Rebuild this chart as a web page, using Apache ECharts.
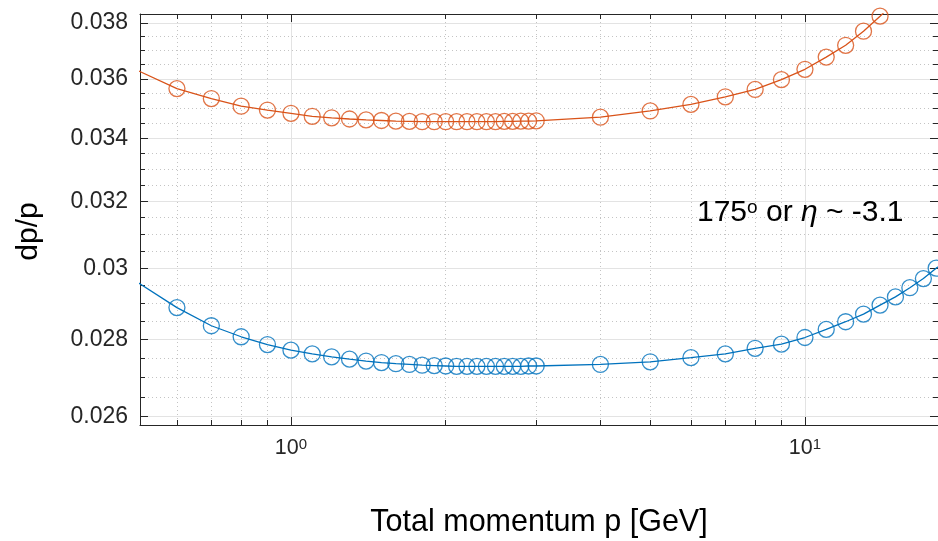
<!DOCTYPE html>
<html><head><meta charset="utf-8">
<script src="https://cdn.jsdelivr.net/npm/echarts@6/dist/echarts.min.js"></script>
<style>html,body{margin:0;padding:0;background:#fff}#c{width:938px;height:541px}</style>
</head><body><div id="c"></div><script>
// ---- data ----
const momentum = [0.6,0.7,0.8,0.9,1.0,1.1,1.2,1.3,1.4,1.5,1.6,1.7,1.8,1.9,2.0,2.1,2.2,2.3,2.4,2.5,2.6,2.7,2.8,2.9,3.0,4,5,6,7,8,9,10,11,12,13,14,15,16,17,18];
const dpOrange = [0.03567,0.03533,0.03507,0.03494,0.03483,0.03473,0.03468,0.03464,0.03461,0.03459,0.03457,0.03456,0.03455,0.03455,0.03455,0.03455,0.03455,0.03455,0.03455,0.03455,0.03456,0.03456,0.03457,0.03457,0.03458,0.03470,0.03491,0.03513,0.03539,0.03564,0.03598,0.03634,0.03677,0.03719,0.03770,0.03825,0.0388,0.0394,0.0400,0.0407];
const dpBlue = [0.02888,0.02838,0.02808,0.02787,0.02772,0.02762,0.02754,0.02748,0.02743,0.02739,0.02736,0.02734,0.02732,0.02731,0.02730,0.02729,0.02729,0.02729,0.02729,0.02729,0.02729,0.02729,0.02729,0.02730,0.02730,0.02734,0.02741,0.02752,0.02762,0.02777,0.02788,0.02806,0.02828,0.02849,0.02870,0.02895,0.02918,0.02944,0.02970,0.03000];
// fitted curve extends to the left edge of the axes
const curveStartP = 0.5;
const orangeCurveStart = 0.03632;
const blueCurveStart = 0.02962;
const curveEndP = 18.5;
const orangeCurveEnd = 0.0409;
const blueCurveEnd = 0.03010;

const xRange = [0.5085, 18.15];
const yRange = [0.02579, 0.03833];
const xMajorTicks = [1, 10];
const xMajorLabels = ['10{s|0}', '10{s|1}'];
const xMinorTicks = [0.6,0.7,0.8,0.9,2,3,4,5,6,7,8,9];
const yMajorTicks = [0.026,0.028,0.030,0.032,0.034,0.036,0.038];
const yMinorTicks = [0.0265,0.0270,0.0275,0.0285,0.0290,0.0295,0.0305,0.0310,0.0315,0.0325,0.0330,0.0335,0.0345,0.0350,0.0355,0.0365,0.0370,0.0375];
const xTitle = 'Total momentum p [GeV]';
const yTitle = 'dp/p';
const annotation = '175{o|o} or {eta|η} ~ -3.1';

// ---- build ----
const lg = Math.log10;
const FONT = '"Liberation Sans", Arial, Helvetica, sans-serif';
const AX = '#262626';
const ORANGE = '#D95319', BLUE = '#0072BD';
const markers = (vals) => momentum.map((p, i) => [lg(p), lg(vals[i])]);
const curve = (start, vals, end) => [[lg(curveStartP), lg(start)]].concat(markers(vals), [[lg(curveEndP), lg(end)]]);

const xMin = lg(xRange[0]), xMax = lg(xRange[1]);
const yMin = lg(yRange[0]), yMax = lg(yRange[1]);
const xMaj = xMajorTicks.map(lg), xMin_ = xMinorTicks.map(lg);
const yMaj = yMajorTicks.map(lg), yMin_ = yMinorTicks.map(lg);

const majorGrid = {show: true, lineStyle: {color: '#e3e3e3', width: 1, type: 'solid'}};
const minorGrid = {show: true, lineStyle: {color: '#c4c4c4', width: 1, type: [1, 3]}};
const noGrid = {show: false};

function xAxis(pos, ticks, len, showLine, split, extra) {
  return Object.assign({
    type: 'value', position: pos, min: xMin, max: xMax,
    axisLine: {show: showLine, onZero: false, lineStyle: {color: AX, width: 1}},
    axisTick: {show: true, inside: true, length: len, customValues: ticks, lineStyle: {color: AX, width: 1}},
    axisLabel: {show: false},
    splitLine: split
  }, extra || {});
}
function yAxis(pos, ticks, len, showLine, split, extra) {
  return Object.assign({
    type: 'value', position: pos, min: yMin, max: yMax,
    axisLine: {show: showLine, onZero: false, lineStyle: {color: AX, width: 1}},
    axisTick: {show: true, inside: true, length: len, customValues: ticks, lineStyle: {color: AX, width: 1}},
    axisLabel: {show: false},
    splitLine: split
  }, extra || {});
}

const option = {
  animation: false,
  backgroundColor: '#ffffff',
  textStyle: {fontFamily: FONT},
  grid: {left: 140, right: 0, top: 14, bottom: 116, outerBoundsMode: 'none', containLabel: false},
  xAxis: [
    xAxis('bottom', xMaj, 8, true, majorGrid, {
      name: xTitle, nameLocation: 'middle', nameGap: 82,
      nameTextStyle: {fontSize: 30.5, color: '#000', fontFamily: FONT},
      axisLabel: {
        show: true, customValues: xMaj, margin: 12, color: AX, fontFamily: FONT, fontSize: 21.5,
        formatter: (v) => xMajorLabels[xMaj.findIndex(t => Math.abs(t - v) < 1e-9)],
        rich: {s: {fontSize: 15, fontFamily: FONT, color: AX, verticalAlign: 'top', padding: [0, 0, 8, 0]}}
      }
    }),
    xAxis('bottom', xMin_, 5, false, minorGrid),
    xAxis('top', xMaj, 8, true, noGrid),
    xAxis('top', xMin_, 5, false, noGrid)
  ],
  yAxis: [
    yAxis('left', yMaj, 8, true, majorGrid, {
      name: yTitle, nameLocation: 'middle', nameGap: 96, nameRotate: 90,
      nameTextStyle: {fontSize: 30, color: '#000', fontFamily: FONT, padding: [0, 24, 0, 0]},
      axisLabel: {
        show: true, customValues: yMaj, margin: 12, color: AX, fontFamily: FONT, fontSize: 23,
        formatter: (v) => String(parseFloat(Math.pow(10, v).toFixed(4)))
      }
    }),
    yAxis('left', yMin_, 5, false, minorGrid),
    yAxis('right', yMaj, 8, true, noGrid),
    yAxis('right', yMin_, 5, false, noGrid)
  ],
  series: [
    {type: 'line', name: 'orange fit', data: curve(orangeCurveStart, dpOrange, orangeCurveEnd), showSymbol: false, symbol: 'none',
     lineStyle: {color: ORANGE, width: 1.3}, itemStyle: {color: ORANGE}, clip: true, z: 3},
    {type: 'scatter', name: 'orange', data: markers(dpOrange), symbol: 'circle', symbolSize: 16,
     itemStyle: {color: 'rgba(0,0,0,0)', borderColor: ORANGE, borderWidth: 1.3}, clip: true, z: 4},
    {type: 'line', name: 'blue fit', data: curve(blueCurveStart, dpBlue, blueCurveEnd), showSymbol: false, symbol: 'none',
     lineStyle: {color: BLUE, width: 1.3}, itemStyle: {color: BLUE}, clip: true, z: 3},
    {type: 'scatter', name: 'blue', data: markers(dpBlue), symbol: 'circle', symbolSize: 16,
     itemStyle: {color: 'rgba(0,0,0,0)', borderColor: BLUE, borderWidth: 1.3}, clip: true, z: 4}
  ],
  graphic: [{
    type: 'text', left: 697, top: 198, z: 10,
    style: {
      text: annotation, fill: '#000', font: '30px ' + FONT,
      rich: {
        o: {fontSize: 19, fontFamily: FONT, fill: '#000', verticalAlign: 'top'},
        eta: {fontSize: 30, fontFamily: FONT, fontStyle: 'italic', fill: '#000'}
      }
    }
  }]
};
const chart = echarts.init(document.getElementById('c'), null, {renderer: 'canvas'});
chart.setOption(option);
</script></body></html>
